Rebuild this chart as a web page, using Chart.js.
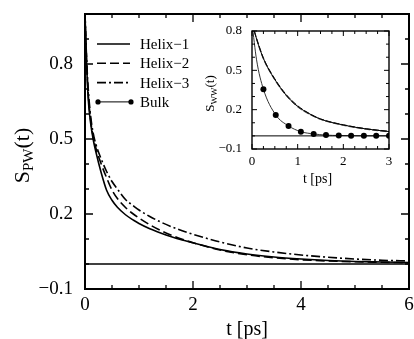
<!DOCTYPE html>
<html>
<head>
<meta charset="utf-8">
<script src="https://cdn.jsdelivr.net/npm/chart.js@4"></script>
<style>
  html, body { margin: 0; padding: 0; background: #fff; }
  #wrap { position: relative; width: 414px; height: 339px; }
  #main { position: absolute; left: 0; top: 0; }
  #inset { position: absolute; left: 195px; top: 22px; }
  #probe { position: absolute; left: -1000px; top: 0; font-family: "Liberation Serif"; }
</style>
</head>
<body>
<div id="probe">0.8 Helix t [ps]</div>
<div id="wrap">
  <canvas id="main" width="414" height="339"></canvas>
  <canvas id="inset" width="205" height="170"></canvas>
</div>
<script>
// ---------- data ----------
const seriesLabels = ['Helix\u22121', 'Helix\u22122', 'Helix\u22123', 'Bulk'];

// main plot: S_PW(t)
const tMain = [0, 0.03, 0.06, 0.1, 0.15, 0.2, 0.3, 0.4, 0.5, 0.6, 0.75, 0.9, 1.0, 1.2, 1.4, 1.6, 1.8, 2.0, 2.5, 3.0, 3.5, 4.0, 4.5, 5.0, 5.5, 6.0];
const helix1Main = [1.0, 0.80, 0.66, 0.57, 0.50, 0.45, 0.365, 0.295, 0.255, 0.227, 0.197, 0.175, 0.162, 0.141, 0.124, 0.109, 0.096, 0.085, 0.058, 0.040, 0.028, 0.020, 0.014, 0.010, 0.008, 0.006];
const helix2Main = [1.0, 0.81, 0.68, 0.585, 0.51, 0.465, 0.40, 0.345, 0.296, 0.262, 0.226, 0.199, 0.184, 0.157, 0.134, 0.115, 0.099, 0.085, 0.056, 0.037, 0.025, 0.017, 0.012, 0.009, 0.007, 0.005];
const helix3Main = [1.0, 0.82, 0.70, 0.60, 0.525, 0.48, 0.42, 0.37, 0.33, 0.30, 0.258, 0.232, 0.216, 0.19, 0.168, 0.149, 0.133, 0.119, 0.088, 0.064, 0.048, 0.036, 0.027, 0.020, 0.015, 0.012];

// inset: S_WW(t)
const tInset = [0, 0.05, 0.1, 0.25, 0.5, 0.75, 1.0, 1.25, 1.5, 2.0, 2.5, 3.0];
const helix1Inset = [0.86, 0.80, 0.74, 0.59, 0.43, 0.31, 0.225, 0.17, 0.128, 0.083, 0.053, 0.033];
const helix2Inset = [0.86, 0.80, 0.735, 0.585, 0.425, 0.305, 0.22, 0.165, 0.125, 0.08, 0.05, 0.03];
const helix3Inset = [0.86, 0.80, 0.745, 0.595, 0.435, 0.315, 0.23, 0.172, 0.13, 0.085, 0.055, 0.035];
const tBulk = [0, 0.1, 0.25, 0.52, 0.8, 1.07, 1.35, 1.62, 1.9, 2.17, 2.45, 2.72, 3.0];
const bulkInset = [0.86, 0.58, 0.356, 0.16, 0.076, 0.032, 0.015, 0.006, 0.003, 0.002, 0.001, 0.001, 0.001];
const bulkMarked = [false, false, true, true, true, true, true, true, true, true, true, true, true];

// tick labels
const xTicksMain = [0, 2, 4, 6];
const yTicksMain = [-0.1, 0.2, 0.5, 0.8];
const xTicksInset = [0, 1, 2, 3];
const yTicksInset = [-0.1, 0.2, 0.5, 0.8];

// ---------- helpers ----------
const SERIF = '"Liberation Serif", "Times New Roman", Times, serif';
const dashes = [[], [9, 4], [9, 3, 2, 3]];
const pts = (xs, ys) => xs.map((x, i) => ({ x: x, y: ys[i] }));
const fmtNum = (v, d) => (v < 0 ? '\u2212' : '') + Math.abs(v).toFixed(d);

function framePlugin(o) {
  return {
    id: 'frame',
    beforeDraw(chart) {
      const { ctx, chartArea: a } = chart;
      ctx.save();
      ctx.fillStyle = '#fff';
      ctx.fillRect(a.left, a.top, a.right - a.left, a.bottom - a.top);
      ctx.restore();
    },
    afterDatasetsDraw(chart) {
      const { ctx, chartArea: a, scales: { x, y } } = chart;
      ctx.save();
      ctx.strokeStyle = '#000';
      ctx.lineWidth = o.zeroWidth;
      const y0 = y.getPixelForValue(0);
      ctx.beginPath(); ctx.moveTo(a.left, y0); ctx.lineTo(a.right, y0); ctx.stroke();
      ctx.lineWidth = o.tickWidth;
      ctx.beginPath();
      const nx = Math.round((x.max - x.min) / o.xMinor);
      for (let i = 0; i <= nx; i++) {
        const v = x.min + i * o.xMinor;
        const major = o.xMajor.some(m => Math.abs(m - v) < 1e-6);
        const len = major ? o.majorLen : o.minorLen;
        const px = x.getPixelForValue(v);
        ctx.moveTo(px, a.bottom); ctx.lineTo(px, a.bottom - len);
        ctx.moveTo(px, a.top); ctx.lineTo(px, a.top + len);
      }
      const ny = Math.round((y.max - y.min) / o.yMinor);
      for (let i = 0; i <= ny; i++) {
        const v = y.min + i * o.yMinor;
        const major = o.yMajor.some(m => Math.abs(m - v) < 1e-6);
        const len = major ? o.majorLen : o.minorLen;
        const py = y.getPixelForValue(v);
        ctx.moveTo(a.left, py); ctx.lineTo(a.left + len, py);
        ctx.moveTo(a.right, py); ctx.lineTo(a.right - len, py);
      }
      ctx.stroke();
      ctx.lineWidth = o.frameWidth;
      ctx.strokeRect(a.left, a.top, a.right - a.left, a.bottom - a.top);
      ctx.restore();
    }
  };
}

function titlePlugin(o) {
  return {
    id: 'titles',
    afterDraw(chart) {
      const { ctx, chartArea: a } = chart;
      ctx.save();
      ctx.fillStyle = '#000';
      ctx.font = o.xSize + 'px ' + SERIF;
      ctx.textAlign = 'center';
      ctx.textBaseline = 'alphabetic';
      ctx.fillText('t [ps]', (a.left + a.right) / 2 + o.xDx, a.bottom + o.xDy);
      const big = o.ySize + 'px ' + SERIF, small = o.subSize + 'px ' + SERIF;
      ctx.font = big; const w1 = ctx.measureText('S').width; const w3 = ctx.measureText('(t)').width;
      ctx.font = small; const w2 = ctx.measureText(o.sub).width;
      const total = w1 + w2 + w3;
      ctx.translate(o.yX, (a.top + a.bottom) / 2 + o.yDy);
      ctx.rotate(-Math.PI / 2);
      ctx.textAlign = 'left';
      let cx = -total / 2;
      ctx.font = big; ctx.fillText('S', cx, 0); cx += w1;
      ctx.font = small; ctx.fillText(o.sub, cx, o.subDrop); cx += w2;
      ctx.font = big; ctx.fillText('(t)', cx, 0);
      ctx.restore();
    }
  };
}

const legendPlugin = {
  id: 'customLegend',
  afterDraw(chart) {
    const { ctx, chartArea: a } = chart;
    const x0 = a.left + 12, x1 = a.left + 45, tx = a.left + 55;
    ctx.save();
    ctx.fillStyle = '#000'; ctx.strokeStyle = '#000';
    ctx.font = '15px ' + SERIF;
    ctx.textBaseline = 'middle';
    seriesLabels.forEach((lab, i) => {
      const yy = a.top + 30 + i * 19.3;
      ctx.beginPath();
      if (i < 3) { ctx.lineWidth = 1.6; ctx.setLineDash(dashes[i]); }
      else { ctx.lineWidth = 1; ctx.setLineDash([]); }
      ctx.moveTo(x0, yy); ctx.lineTo(x1, yy); ctx.stroke();
      ctx.setLineDash([]);
      if (i === 3) {
        [x0 + 1, x1 + 1].forEach(px => { ctx.beginPath(); ctx.arc(px, yy, 2.6, 0, Math.PI * 2); ctx.fill(); });
      }
      ctx.fillText(lab, tx, yy + 1);
    });
    ctx.restore();
  }
};

function axisOpts(min, max, labels, dec, size, pad, fitKey, fitVal) {
  return {
    type: 'linear', min: min, max: max,
    afterBuildTicks: s => { s.ticks = labels.map(v => ({ value: v })); },
    afterFit: s => { s[fitKey] = fitVal; s.paddingLeft = 0; s.paddingRight = 0; s.paddingTop = 0; s.paddingBottom = 0; },
    grid: { display: false, drawTicks: false, tickLength: 0 },
    border: { display: false },
    ticks: {
      padding: pad, color: '#000', autoSkip: false, maxRotation: 0, minRotation: 0,
      font: { family: SERIF, size: size },
      callback: v => fmtNum(v, dec)
    }
  };
}

function build() {
  new Chart(document.getElementById('main'), {
    type: 'line',
    data: {
      datasets: [helix1Main, helix2Main, helix3Main].map((vals, i) => ({
        label: seriesLabels[i],
        data: pts(tMain, vals),
        borderColor: '#000', borderWidth: 1.6, borderDash: dashes[i],
        pointRadius: 0, fill: false, cubicInterpolationMode: 'monotone'
      }))
    },
    options: {
      responsive: false, animation: false, devicePixelRatio: 1,
      layout: { padding: { top: 14, right: 5, left: 0, bottom: 0 } },
      plugins: { legend: { display: false }, tooltip: { enabled: false } },
      scales: {
        x: axisOpts(0, 6, xTicksMain, 0, 19, 5, 'height', 50),
        y: axisOpts(-0.1, 1.0, yTicksMain, 1, 19, 12, 'width', 85)
      }
    },
    plugins: [
      framePlugin({ xMinor: 0.5, xMajor: xTicksMain, yMinor: 0.1, yMajor: yTicksMain, majorLen: 8, minorLen: 4, tickWidth: 1.3, frameWidth: 2, zeroWidth: 1.6 }),
      legendPlugin,
      titlePlugin({ xSize: 20, xDx: 0, xDy: 46, ySize: 22, subSize: 15, sub: 'PW', subDrop: 4, yX: 29, yDy: 4 })
    ]
  });

  const insetDatasets = [helix1Inset, helix2Inset, helix3Inset].map((vals, i) => ({
    label: seriesLabels[i],
    data: pts(tInset, vals),
    borderColor: i === 1 ? '#555' : '#000', borderWidth: 1, borderDash: dashes[i].length ? [6, 2] : [],
    pointRadius: 0, fill: false, cubicInterpolationMode: 'monotone'
  }));
  insetDatasets.push({
    label: seriesLabels[3],
    data: pts(tBulk, bulkInset),
    borderColor: '#333', borderWidth: 1,
    pointRadius: bulkMarked.map(m => m ? 3 : 0),
    pointBackgroundColor: '#000', pointBorderColor: '#000', pointBorderWidth: 0,
    fill: false, cubicInterpolationMode: 'monotone'
  });

  new Chart(document.getElementById('inset'), {
    type: 'line',
    data: { datasets: insetDatasets },
    options: {
      responsive: false, animation: false, devicePixelRatio: 1,
      layout: { padding: { top: 9, right: 11, left: 0, bottom: 0 } },
      plugins: { legend: { display: false }, tooltip: { enabled: false } },
      scales: {
        x: axisOpts(0, 3, xTicksInset, 0, 13, 5, 'height', 43),
        y: axisOpts(-0.1, 0.8, yTicksInset, 1, 13, 10, 'width', 57)
      }
    },
    plugins: [
      framePlugin({ xMinor: 0.25, xMajor: xTicksInset, yMinor: 0.1, yMajor: yTicksInset, majorLen: 5, minorLen: 3, tickWidth: 1, frameWidth: 1.4, zeroWidth: 1 }),
      titlePlugin({ xSize: 14, xDx: -3, xDy: 33.5, ySize: 13, subSize: 9, sub: 'WW', subDrop: 3, yX: 19, yDy: 3.5 })
    ]
  });
}

if (document.fonts && document.fonts.load) {
  Promise.all([
    document.fonts.load('15px "Liberation Serif"'),
    document.fonts.load('19px "Liberation Serif"')
  ]).then(build, build);
} else {
  build();
}
</script>
</body>
</html>
